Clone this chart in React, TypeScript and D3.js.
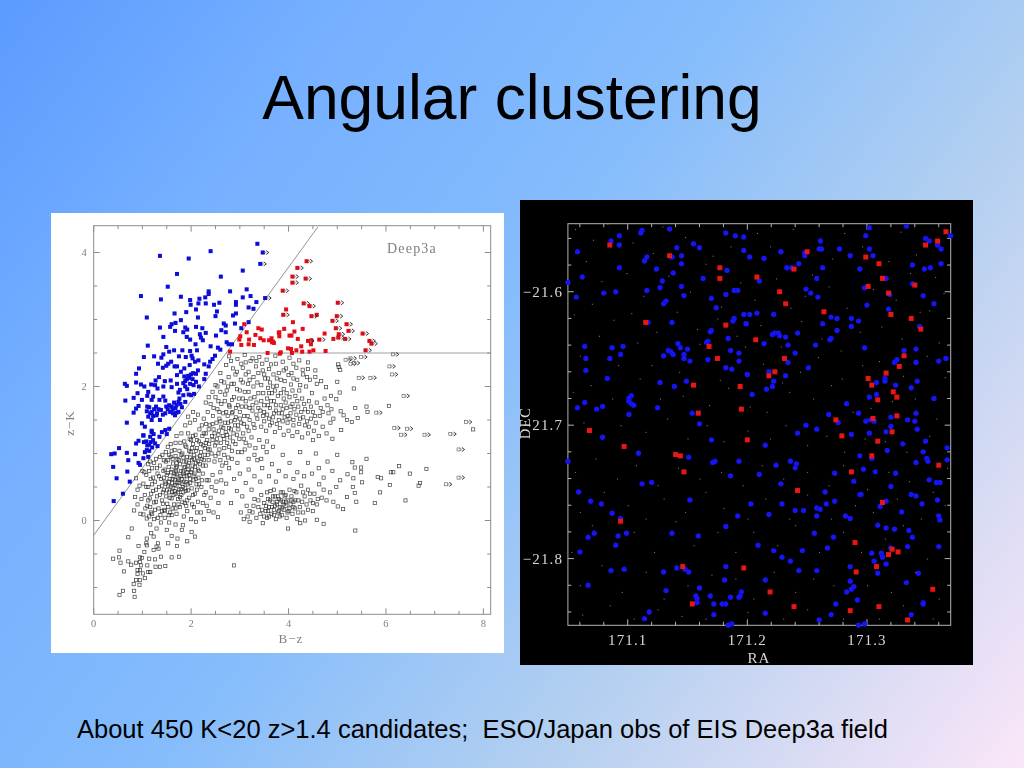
import React from "react";
import * as d3 from "d3";

// ---------- left panel: colour-colour diagram, [B-z, z-K] ----------
const xTicksLeft = [0, 2, 4, 6, 8];
const yTicksLeft = [0, 2, 4];
const blueSelected = [[3.36,4.13],[2.4,4.02],[1.36,3.95],[1.95,3.91],[3.06,3.73],[1.71,3.68],[2.61,3.64],[1.52,3.49],[2.8,3.42],[3.14,3.45],[2.36,3.42],[2.36,3.38],[.97,3.35],[1.38,3.3],[1.79,3.34],[2.17,3.31],[2.29,3.33],[1.98,3.29],[3.06,3.33],[3.22,3.35],[2.92,3.26],[3.34,3.26],[1.99,3.22],[2.15,3.24],[2.3,3.24],[2.47,3.22],[2.58,3.25],[2.92,3.22],[2.1,3.15],[3.18,3.18],[3.28,3.16],[2.53,3.12],[1.9,3.11],[1.66,3.09],[2.5,3.05],[2.92,3.09],[2.86,3.06],[1.09,3.03],[2.14,3.03],[1.79,2.99],[1.68,2.95],[3.18,2.96],[2.67,2.94],[2.71,2.91],[2.9,2.94],[1.6,2.93],[1.57,2.89],[1.36,2.88],[1.88,2.88],[2.1,2.89],[2.23,2.87],[1.67,2.83],[1.92,2.85],[1.84,2.81],[2.62,2.84],[3.03,2.87],[2.71,2.81],[2.3,2.8],[2.18,2.78],[2.51,2.76],[1.43,2.74],[1.91,2.74],[1.98,2.7],[2.2,2.73],[2.24,2.69],[2.73,2.66],[2.77,2.63],[2.84,2.63],[1.11,2.61],[1.49,2.59],[2.09,2.63],[2.4,2.6],[2.55,2.58],[1.65,2.54],[1.82,2.54],[2.6,2.55],[1.98,2.53],[1.55,2.52],[2.12,2.54],[1.43,2.48],[1.75,2.45],[1.24,2.45],[1.03,2.44],[1.39,2.43],[1.89,2.44],[2.01,2.46],[2.49,2.46],[2.03,2.42],[2.15,2.39],[2.44,2.41],[2.39,2.37],[2.08,2.37],[1.59,2.37],[1.53,2.34],[1.32,2.34],[1.49,2.31],[1.66,2.3],[1.71,2.3],[1.97,2.32],[2.27,2.33],[2.36,2.3],[.93,2.27],[1.86,2.27],[1.42,2.28],[1.79,2.22],[2.14,2.24],[2.3,2.19],[.87,2.19],[2.1,2.19],[1.71,2.17],[1.34,2.14],[1.96,2.13],[1.91,2.11],[2.03,2.11],[1.58,2.09],[1.46,2.08],[1.27,2.09],[.87,2.06],[2.27,2.11],[.64,2.04],[.68,2.01],[.97,2.03],[1.26,2.02],[1.71,2.04],[1.84,2.05],[1.98,2.04],[2.1,2.07],[1.04,2],[1.18,2.03],[1.6,1.99],[2.16,2],[1.31,1.97],[1.43,2],[1.77,1.95],[.9,1.9],[1.12,1.92],[1.74,1.91],[2.06,1.89],[2,1.87],[1.84,1.87],[1.95,1.88],[.82,1.83],[.65,1.79],[.99,1.8],[1.19,1.8],[1.43,1.85],[1.76,1.82],[1.47,1.79],[.87,1.67],[.92,1.71],[1.14,1.69],[1.28,1.7],[1.65,1.76],[1.74,1.77],[1.88,1.77],[1.49,1.7],[1.6,1.7],[1.81,1.69],[.82,1.61],[1.09,1.63],[1.19,1.62],[1.33,1.66],[1.57,1.62],[1.74,1.62],[1.12,1.55],[1.29,1.57],[1.47,1.6],[1.67,1.57],[.68,1.46],[1.19,1.5],[1.36,1.5],[.99,1.45],[1.05,1.4],[1.55,1.37],[1.47,1.35],[1.19,1.34],[1.4,1.32],[1.02,1.27],[1.23,1.29],[1.5,1.29],[.36,.99],[.43,1],[.52,1.08],[.68,1.01],[.85,.99],[.71,.9],[.4,.8],[.69,.73],[.47,.63],[.74,.58],[.6,.4],[.41,.29],[.92,.86],[.95,.83],[1.02,.93],[1.09,1.05],[1.05,1.02],[1.14,1.04],[1.12,.95],[.87,1.15],[.92,1.19],[1.02,1.27],[1.16,1.25],[1.26,1.15],[1.31,1.11],[1.35,1.25],[1.19,1.32],[1.3,1.6],[1.38,1.65],[1.42,1.58],[1.52,1.66],[1.55,1.72],[1.62,1.66],[1.68,1.68],[1.7,1.72],[1.78,1.74],[1.7,1.61],[1.63,1.6],[1.22,1.56],[1.24,1.66],[1.16,1.6],[1.1,1.7],[1.03,1.17],[1.1,1.12],[1.08,1.18],[1.17,1.17],[1.2,1.09],[1.22,1.2],[1.14,1.13],[1.86,2.15],[1.88,2.08],[1.94,2.16],[2,2.18],[2.04,2.2],[2.05,2.02],[1.92,1.96],[1.88,2],[1.35,1.8],[1.22,1.85],[1.1,1.86]];
const redSelected = [[3.95,3.15],[4.58,3.07],[4.09,2.96],[4.29,2.86],[3.91,2.86],[3.81,2.81],[4.12,2.82],[4.02,2.76],[4.06,2.76],[4.74,2.79],[3.81,2.75],[4.19,2.71],[3.65,2.72],[3.66,2.66],[3.7,2.65],[4.47,2.69],[4.46,2.63],[4.26,2.6],[4.92,2.71],[3.99,2.57],[4.05,2.56],[4.16,2.54],[4.07,2.5],[4.28,2.52],[4.43,2.52],[4.51,2.54],[4.76,2.53],[3.84,2.51],[3.14,2.81],[3.01,2.75],[2.99,2.7],[3.03,2.62],[3.18,2.63],[3.19,2.7],[3.38,2.87],[3.45,2.85],[3.42,2.72],[3.32,2.77],[3.49,2.69],[3.6,2.69],[3.68,2.67],[3.8,2.8],[2.8,2.52],[3.57,2.5],[3.82,2.49],[3.29,2.62],[3.09,2.93]];
const redLimits = [[4.37,3.87],[4.18,3.77],[4.08,3.64],[4.08,3.55],[4.35,3.61],[3.88,3.43],[4.31,3.24],[4.43,3.2],[5.01,3.25],[3.89,3.07],[4.47,3.05],[4.99,3.05],[4.9,2.98],[5.19,2.93],[4.97,2.87],[5.23,2.83],[5.52,2.79],[5.03,2.78],[5.02,2.73],[5.16,2.71],[4.63,2.7],[4.4,2.68],[5.66,2.68],[5.7,2.64],[5.58,2.54]];
const blueLimits = [[3.47,4],[3.42,3.83],[3.52,3.32]];
const greyLimits = [[5.17,2.4],[5.27,2.42],[5.27,2.34],[5.34,2.35],[5.49,2.44],[6.14,2.48],[6.07,2.3],[6.12,2.18],[5.44,2.13],[5.68,2.13],[6.36,1.86],[5.8,1.61],[7.64,1.47],[6.17,1.38],[6.43,1.37],[6.31,1.28],[6.79,1.28],[7.32,1.29],[7.49,1.06],[7.49,.64],[7.23,.54]];
const greySparse = [[5.02,2.33],[5.03,2.29],[5.06,2.25],[5.34,1.97],[5,2.07],[5.05,1.91],[4.98,1.81],[4.87,1.86],[5.37,1.68],[5.6,1.7],[6.06,1.71],[5.62,1.62],[5.42,1.53],[5.3,1.47],[5.2,1.5],[7.79,1.36],[5.13,1.57],[5.07,1.63],[5.08,1.35],[4.4,2.36],[4.16,2.28],[4.29,2.25],[4.4,2.26],[4.55,2.24],[4.38,2.14],[4.55,2.14],[4.67,2.08],[4.58,2.04],[4.77,1.99],[5.6,.92],[5.31,.87],[5.36,.79],[5.49,.79],[5.49,.72],[5.21,.69],[5.83,.65],[5.9,.63],[6.1,.72],[6.15,.72],[6.27,.81],[6.49,.7],[6.83,.77],[6.7,.56],[6.67,.52],[6.08,.53],[5.88,.42],[6.4,.3],[5.77,.26],[5.39,.28],[5.37,-.15],[5.51,.57],[5.33,.63],[5.32,.5],[5.36,.41],[5.2,.35],[5.12,.17],[5.01,.21],[4.72,-.05],[4.58,.01],[4.34,0],[4.24,-.04],[3.99,-.12],[.78,-.12],[.71,-.25],[.92,-.38],[.53,-.45],[.4,-.57],[.52,-.55],[.55,-.63],[.71,-.61],[.77,-.66],[.62,-.76],[.87,-.63],[.95,-.55],[.97,-.67],[1.04,-.47],[1.08,-.34],[1.09,-.27],[1.16,-.06],[1.23,-.24],[1.29,-.39],[1.33,-.42],[1.14,-.57],[1.26,-.58],[1.38,-.54],[1.36,-.69],[1.47,-.68],[1.27,-.69],[1.12,-.77],[.95,-.74],[.9,-.8],[1.05,-.86],[.87,-.89],[.95,-.89],[.82,-.95],[.94,-.96],[.6,-1.05],[.53,-1.11],[.83,-1.05],[.84,-1.14],[2.88,-.67],[1.6,-.55],[1.75,-.54],[1.53,-.34],[1.71,-.38],[1.92,-.31],[1.72,-.27],[1.6,-.23],[2.08,-.24],[2.1,-.02],[2.01,-.17],[1.81,-.14],[1.5,-.14],[1.29,-.12],[1.18,-.19],[1.09,-.37],[.99,-.56],[1.1,-.67],[1.23,-.44],[1.32,-.34],[.95,-.62],[.9,-.74],[1.16,-.77],[1.01,-.79],[.83,.15],[.85,.35],[.87,.63],[.9,.46],[1.02,.09],[1.09,.03],[1.16,.2],[.9,.24]];
const greyCore = [[1.02,.55],[1.05,.38],[1.08,.68],[1.1,.22],[1.12,.5],[1.15,.33],[1.17,.62],[1.18,.12],[1.2,.78],[1.22,.44],[1.24,.27],[1.26,.58],[1.28,.92],[1.3,.36],[1.31,.7],[1.33,.18],[1.34,.5],[1.36,.82],[1.37,.08],[1.38,.62],[1.4,.3],[1.41,.98],[1.43,.74],[1.44,.46],[1.45,.16],[1.46,.58],[1.48,.88],[1.49,.36],[1.5,.68],[1.51,.25],[1.52,1.1],[1.53,.52],[1.54,.8],[1.55,.42],[1.56,.62],[1.57,.12],[1.58,.95],[1.59,.72],[1.6,.33],[1.61,.56],[1.62,.48],[1.63,.85],[1.64,.66],[1.65,.24],[1.66,1.05],[1.67,.6],[1.68,.4],[1.69,.78],[1.7,.52],[1.71,.7],[1.72,.92],[1.73,.32],[1.74,.64],[1.75,.46],[1.76,.56],[1.77,.84],[1.78,1.16],[1.79,.74],[1.8,.38],[1.81,.62],[1.82,1],[1.83,.5],[1.84,.7],[1.85,.88],[1.86,.58],[1.87,.26],[1.88,.8],[1.89,.44],[1.9,1.1],[1.91,.66],[1.92,.95],[1.93,.54],[1.94,.76],[1.95,.86],[1.96,.34],[1.97,1.22],[1.98,.62],[1.99,1.02],[2,.72],[2.01,.48],[2.02,.9],[2.03,.82],[2.04,1.14],[2.05,.6],[2.06,.98],[2.07,.7],[2.08,.4],[2.09,1.28],[2.1,.86],[2.11,.54],[2.12,1.08],[2.13,.94],[2.14,.76],[2.15,.64],[2.16,1.18],[2.17,1.36],[2.18,.84],[2.2,1.02],[2.21,.5],[2.22,.92],[2.23,1.26],[2.24,.7],[2.25,1.12],[2.27,.38],[2.28,.98],[2.3,.82],[2.31,1.44],[2.32,.6],[2.33,1.2],[2.35,1.06],[2.36,.9],[1.62,.18],[1.7,.1],[1.77,.2],[1.85,.06],[1.92,.14],[2,.02],[2.06,.2],[2.14,.28],[2.2,.12],[2.26,.02],[2.32,.22],[2.4,.34],[2.46,.12],[2.55,.05],[1.46,.04],[1.55,-.03],[1.38,-.03],[1.24,.02],[1.68,-.06],[1.83,-.07]];
const greyCoreDense = [[1.74,.61],[1.58,.5],[1.83,.73],[1.66,.44],[1.52,.71],[1.9,.57],[1.71,.8],[1.62,.62],[1.79,.47],[1.96,.68],[1.48,.55],[1.86,.66],[1.67,.53],[1.55,.58],[1.78,.66],[1.69,.73],[1.93,.82],[1.6,.76],[1.44,.64],[1.82,.55],[2.02,.76],[1.73,.42],[1.64,.38],[1.88,.48],[1.56,.34],[1.98,.56],[1.75,.9],[1.8,.98],[1.92,.72],[1.85,.79],[2.05,.67],[1.5,.45],[1.4,.52],[1.66,.7],[1.72,.57],[1.61,.43],[1.77,.35],[1.84,.42],[1.94,.45],[1.46,.76],[1.52,.9],[1.34,.66],[1.28,.46],[1.36,.38],[1.42,.25],[1.53,.2],[1.68,.18],[1.82,.28],[1.92,.3],[2.04,.38],[2.12,.46],[2.1,.62],[2.16,.74],[2.08,.8],[2.14,.88],[2.24,.82],[2.06,.92],[1.98,.94],[2.18,.96],[2.1,1.04],[2.02,1.08],[2.26,.9],[2.34,.98],[2.28,1.08],[2.2,1.14],[2.12,1.2],[2.04,1.26],[2.3,1.16],[2.38,1.06],[2.44,1.2],[2.26,1.3],[2.36,1.36],[2.22,1.42],[2,1.2],[1.88,1.12],[1.76,1.04],[1.68,.96],[1.6,1.04],[1.55,.98],[1.44,.9],[1.36,.95],[1.22,.64],[1.18,.4],[1.28,.28],[1.12,.3],[1.06,.18],[1.2,.1],[1.32,.04],[1.24,.86],[1.14,.74],[1.16,.88],[1.08,.5],[1.2,.54],[1.3,.78],[1.42,.42],[1.62,.92],[1.7,.86],[1.84,.94],[1.9,.88],[1.96,1.04],[1.86,1.18],[1.94,1.3],[1.74,.24],[1.6,.08],[1.46,.14],[1.54,.08],[1.9,.22],[2.02,.24],[2.12,.12],[2.24,.26],[2.36,.14],[2.3,.42],[2.42,.5],[2.36,.6],[2.44,.68],[2.5,.44],[2.56,.26],[2.62,.6],[2.22,.6],[2.16,.54],[1.12,.84],[1.04,.72],[1.26,.16],[1.4,.14],[1.14,.06],[.96,.1],[.98,.32],[.94,.52],[1,.74],[1.48,1.02],[1.58,1.14],[1.68,1.16],[1.7,1.26],[1.8,1.3],[1.88,1.42],[1.98,1.46],[2.08,1.5],[2.14,1.58],[2.04,1.62],[1.94,1.55]];
const greyRidge = [[2.26,1.52],[2.3,1.3],[2.34,1.62],[2.37,1.14],[2.38,1.42],[2.4,1.74],[2.42,1],[2.43,1.26],[2.45,1.56],[2.46,1.36],[2.48,.88],[2.49,1.12],[2.5,1.84],[2.52,1.46],[2.53,1.22],[2.54,1.66],[2.56,1],[2.57,1.34],[2.58,1.52],[2.6,1.92],[2.61,1.16],[2.62,1.4],[2.64,.82],[2.65,1.26],[2.66,1.6],[2.68,1.08],[2.69,1.78],[2.7,1.46],[2.71,1.32],[2.73,1.94],[2.74,1.16],[2.75,1.56],[2.76,.94],[2.78,1.38],[2.79,1.7],[2.8,1.24],[2.82,1.48],[2.83,2.04],[2.84,1.04],[2.85,1.62],[2.87,1.3],[2.88,1.84],[2.9,1.42],[2.91,1.14],[2.92,1.54],[2.94,1.96],[2.95,.86],[2.96,1.72],[2.97,1.36],[2.99,1.22],[3,1.62],[3.02,2.1],[3.03,1.46],[3.04,1.02],[3.06,1.82],[3.07,1.3],[3.09,1.56],[3.1,1.92],[3.12,1.16],[3.13,1.7],[3.15,1.4],[3.17,2.04],[3.18,.92],[3.2,1.5],[3.22,1.82],[3.24,1.24],[3.26,1.64],[3.28,2],[3.3,1.38],[3.32,1.08],[3.34,1.76],[3.36,1.52],[3.38,1.9]];
const greyRidgeDense = [[2.56,1.28],[2.66,1.38],[2.48,1.3],[2.74,1.28],[2.6,1.48],[2.52,1.16],[2.82,1.36],[2.44,1.44],[2.68,1.22],[2.76,1.46],[2.58,1.62],[2.9,1.5],[2.84,1.6],[2.96,1.42],[3,1.52],[2.72,1.62],[3.08,1.44],[2.62,1.74],[2.78,1.72],[2.92,1.68],[3.04,1.7],[3.16,1.56],[3.2,1.68],[3.12,1.78],[2.98,1.82],[2.84,1.8],[2.7,1.88],[2.56,1.78],[2.46,1.68],[2.36,1.84],[2.44,1.92],[2.3,1.76],[2.54,2],[2.62,2.08],[2.76,2],[2.88,2.04],[3,1.94],[3.06,2.06],[3.18,1.92],[3.3,1.84],[3.26,1.72],[3.38,1.68],[3.44,1.78],[3.5,1.62],[3.34,1.58],[3.28,1.44],[3.18,1.34],[3.08,1.22],[2.94,1.28],[2.86,1.18],[2.78,1.1],[2.68,.98],[2.58,1.06],[2.5,.96],[2.6,.9],[2.72,.86],[2.84,.92],[2.96,1.02],[3.1,1.06],[3.2,1.12],[3.4,1.2],[3.48,1.1],[3.56,1.18],[3.68,1.1],[3.3,.98],[3.44,.92]];
const greyUpper = [[2.78,2.45],[2.95,2.41],[3.1,2.47],[3.22,2.38],[3.4,2.44],[3.55,2.4],[3.73,2.46],[3.88,2.37],[4.02,2.43],[4.22,2.39],[2.72,2.32],[2.86,2.27],[3.03,2.34],[3.18,2.22],[3.33,2.3],[3.47,2.24],[3.64,2.33],[3.8,2.2],[3.95,2.27],[4.1,2.34],[2.6,2.2],[2.77,2.14],[2.91,2.18],[3.06,2.28],[3.28,2.14],[3.38,2.2],[3.52,2.12],[3.69,2.18],[3.84,2.1],[4,2.17],[4.18,2.1],[4.3,2.18],[2.5,2.02],[2.68,2.06],[3.12,2.18],[3.44,2.02],[3.58,1.98],[3.62,2.06],[3.76,2.01],[3.9,1.96],[4.05,2.03],[4.22,1.94],[4.36,2],[4.48,1.9],[3.48,1.9],[3.56,1.82],[3.66,1.9],[3.7,1.78],[3.78,1.86],[3.84,1.72],[3.9,1.82],[3.96,1.68],[4.02,1.84],[4.08,1.74],[4.14,1.86],[4.2,1.7],[4.28,1.82],[4.34,1.66],[4.42,1.78],[4.5,1.62],[4.58,1.76],[4.66,1.68],[4.74,1.82],[4.82,1.6],[3.42,1.64],[3.5,1.72],[3.56,1.58],[3.62,1.68],[3.68,1.54],[3.74,1.64],[3.8,1.5],[3.86,1.6],[3.92,1.54],[3.98,1.46],[4.04,1.6],[4.1,1.5],[4.16,1.58],[4.22,1.44],[4.3,1.54],[4.38,1.48],[4.46,1.52],[4.56,1.46],[4.64,1.56],[4.7,1.4],[4.86,1.46],[4.92,1.52],[3.44,1.4],[3.54,1.34],[3.62,1.42],[3.72,1.32],[3.82,1.38],[3.9,1.28],[4,1.34],[4.08,1.26],[4.18,1.32],[4.28,1.24],[4.4,1.3],[4.5,1.2],[4.62,1.26],[4.78,1.3],[4.9,1.22]];
const greyUpperDense = [[3.12,2.36],[3.26,2.42],[3.46,2.34],[3.6,2.26],[3.74,2.34],[3.9,2.24],[4.06,2.2],[2.82,2.38],[2.94,2.22],[3.2,2.1],[3.34,2.38],[3.36,2.06],[3.5,2.18],[3.76,2.12],[3.92,2.08],[4.1,2.12],[4.24,2.02],[4.44,2.1],[3.58,2.12],[3.68,2],[3.84,1.9],[3.96,1.9],[4.08,1.94],[3.72,1.94],[3.6,1.9],[3.74,1.72],[3.88,1.66],[3.94,1.76],[4.04,1.7],[3.8,1.6],[3.7,1.6],[3.64,1.78],[3.58,1.72],[4.12,1.66],[4.18,1.78],[4.26,1.62],[4.32,1.74],[4.4,1.62],[4.46,1.7],[4.54,1.56],[4.1,1.42],[3.98,1.56],[3.88,1.48],[4.02,1.52],[4.24,1.52],[4.34,1.42],[4.42,1.4],[4.52,1.34],[3.76,1.44],[3.66,1.46],[3.5,1.48],[3.6,1.52],[3.48,1.56],[4.7,1.62],[4.8,1.72],[4.88,1.66]];
const greyLobe = [[3.08,.02],[3.14,.22],[3.2,-.02],[3.26,.12],[3.3,.32],[3.34,.04],[3.38,.2],[3.42,.1],[3.44,.38],[3.47,-.04],[3.5,.26],[3.53,.14],[3.56,.04],[3.58,.32],[3.6,.2],[3.63,.44],[3.65,.1],[3.67,.28],[3.7,.16],[3.72,.36],[3.74,.02],[3.76,.24],[3.78,.12],[3.8,.32],[3.82,.2],[3.84,.42],[3.86,.08],[3.88,.28],[3.9,.16],[3.92,.36],[3.94,.22],[3.96,.04],[3.98,.3],[4,.14],[4.02,.46],[4.04,.24],[4.06,.36],[4.08,.1],[4.1,.28],[4.13,.18],[4.16,.42],[4.18,.02],[4.2,.3],[4.23,.2],[4.26,.52],[4.3,.12],[4.33,.36],[4.37,.24],[4.4,.46],[4.45,.3],[4.5,.14],[4.53,.4],[4.58,.24],[4.63,.54],[4.68,.34],[4.72,.46],[4.78,.3],[4.85,.42],[4.92,.28],[4.98,.5]];
const greyLobeDense = [[3.72,.22],[3.84,.3],[3.66,.2],[3.95,.28],[3.78,.36],[3.58,.14],[3.9,.24],[3.8,.14],[4.02,.18],[3.7,.08],[3.62,.3],[3.86,.18],[3.98,.12],[4.1,.2],[4.06,.3],[3.54,.22],[3.46,.16],[3.76,.28],[3.94,.38],[3.68,.36],[3.5,.06],[3.6,.06],[3.82,.06],[4.14,.3],[4.2,.12],[4.28,.28],[3.38,.3],[3.28,.22],[3.2,.14],[3.88,.42],[4.12,.44],[4.3,.42],[4.44,.4],[4.5,.26],[4.6,.32],[4.4,.16],[3.7,.46],[3.56,.42],[3.16,.06],[3.02,.12]];
const greyBetween = [[2.52,.58],[2.6,.72],[2.64,.42],[2.72,.55],[2.78,.78],[2.82,.26],[2.88,.62],[2.94,.44],[3,.7],[3.05,.36],[3.12,.56],[3.18,.76],[3.24,.46],[3.3,.66],[3.36,.9],[3.42,.58],[3.46,.78],[3.55,1.02],[3.6,.66],[3.66,.84],[3.74,.58],[3.8,.74],[3.88,.98],[3.94,.66],[4.02,.86],[4.1,.62],[4.18,.72],[4.24,1.02],[4.32,.66],[4.4,.86],[4.48,.7],[4.56,1],[4.62,.78],[4.72,.64],[4.8,.88],[4.9,.74],[5,.98],[5.06,.6]];

// ---------- right panel: sky positions, offsets from RA 171 and DEC -21 ----------
const raBase = 171;
const decBase = -21;
const raTicks = [171.1, 171.2, 171.3];
const decTicks = [-21.6, -21.7, -21.8];
const blueSky = [[.093,.558],[.112,.554],[.111,.556],[.135,.553],[.182,.556],[.19,.558],[.197,.559],[.086,.562],[.093,.565],[.058,.57],[.141,.567],[.155,.564],[.16,.567],[.197,.569],[.116,.574],[.114,.577],[.137,.574],[.145,.573],[.145,.579],[.093,.582],[.124,.583],[.183,.584],[.138,.586],[.062,.589],[.05,.593],[.129,.592],[.163,.59],[.127,.597],[.145,.596],[.116,.599],[.08,.601],[.09,.6],[.057,.604],[.147,.603],[.189,.599],[.192,.599],[.182,.602],[.17,.605],[.132,.607],[.13,.609],[.174,.612],[.197,.617],[.189,.62],[.188,.622],[.117,.623],[.137,.623],[.199,.624],[.17,.629],[.169,.63],[.167,.637],[.166,.638],[.184,.635],[.142,.639],[.064,.641],[.087,.642],[.096,.641],[.144,.642],[.15,.643],[.134,.644],[.136,.645],[.138,.647],[.13,.648],[.094,.647],[.186,.644],[.193,.646],[.147,.647],[.147,.65],[.065,.65],[.085,.65],[.167,.651],[.152,.652],[.193,.652],[.065,.659],[.182,.657],[.187,.658],[.2,.662],[.083,.665],[.149,.667],[.127,.668],[.139,.671],[.103,.678],[.101,.68],[.101,.682],[.064,.683],[.103,.684],[.105,.685],[.058,.687],[.074,.688],[.079,.686],[.125,.687],[.101,.692],[.154,.691],[.16,.699],
[.302,.552],[.333,.551],[.299,.558],[.349,.56],[.352,.562],[.37,.558],[.261,.562],[.359,.565],[.362,.568],[.262,.568],[.26,.568],[.277,.568],[.302,.568],[.228,.57],[.248,.571],[.248,.573],[.202,.574],[.214,.575],[.286,.573],[.305,.573],[.243,.579],[.362,.579],[.338,.58],[.353,.582],[.348,.583],[.233,.582],[.237,.582],[.263,.582],[.294,.583],[.258,.59],[.316,.59],[.21,.592],[.338,.594],[.298,.597],[.249,.598],[.253,.601],[.259,.604],[.319,.602],[.347,.603],[.356,.609],[.3,.61],[.318,.613],[.202,.617],[.208,.616],[.222,.617],[.27,.619],[.275,.62],[.287,.62],[.293,.622],[.199,.624],[.263,.624],[.287,.626],[.344,.626],[.275,.629],[.242,.631],[.221,.632],[.223,.631],[.226,.631],[.227,.633],[.232,.634],[.27,.635],[.269,.636],[.234,.64],[.214,.639],[.257,.64],[.298,.642],[.341,.643],[.331,.644],[.24,.646],[.325,.651],[.323,.653],[.341,.653],[.36,.652],[.366,.65],[.234,.653],[.251,.657],[.2,.662],[.232,.663],[.218,.66],[.222,.667],[.308,.668],[.315,.665],[.315,.667],[.342,.667],[.324,.67],[.221,.671],[.216,.673],[.337,.672],[.308,.677],[.302,.679],[.204,.677],[.356,.68],[.283,.684],[.268,.692],[.293,.691],[.341,.691],[.32,.694],[.334,.696],[.34,.697],[.299,.697],[.303,.696],[.306,.697],[.276,.698],[.249,.7],[.32,.701],[.342,.703],[.258,.703],[.316,.705],[.242,.706],[.302,.706],
[.079,.709],[.17,.711],[.109,.721],[.151,.724],[.173,.727],[.171,.728],[.05,.727],[.193,.727],[.186,.738],[.112,.744],[.12,.743],[.059,.75],[.069,.757],[.078,.759],[.152,.756],[.087,.766],[.094,.77],[.192,.768],[.182,.776],[.072,.781],[.067,.784],[.092,.783],[.099,.781],[.137,.781],[.159,.783],[.09,.79],[.06,.795],[.086,.809],[.097,.808],[.13,.81],[.141,.807],[.148,.808],[.151,.81],[.182,.806],[.181,.816],[.067,.82],[.16,.822],[.132,.824],[.195,.825],[.194,.828],[.193,.829],[.157,.828],[.158,.83],[.158,.833],[.169,.828],[.186,.829],[.172,.834],[.179,.834],[.182,.834],[.118,.84],[.172,.842],[.114,.845],[.187,.849],[.184,.85],
[.287,.707],[.215,.715],[.33,.714],[.349,.712],[.367,.717],[.347,.72],[.317,.719],[.294,.723],[.304,.725],[.35,.725],[.351,.727],[.367,.726],[.341,.728],[.224,.73],[.236,.727],[.241,.729],[.24,.732],[.21,.737],[.273,.736],[.297,.733],[.307,.735],[.324,.736],[.228,.744],[.289,.742],[.32,.746],[.352,.741],[.358,.743],[.361,.743],[.265,.75],[.294,.752],[.295,.752],[.337,.752],[.341,.753],[.359,.756],[.203,.759],[.229,.759],[.273,.757],[.266,.759],[.316,.757],[.311,.761],[.346,.759],[.258,.762],[.261,.763],[.24,.764],[.247,.764],[.329,.765],[.218,.767],[.258,.768],[.36,.768],[.361,.771],[.282,.768],[.286,.77],[.309,.775],[.316,.777],[.323,.778],[.335,.779],[.256,.781],[.272,.784],[.338,.784],[.209,.79],[.222,.794],[.246,.794],[.267,.792],[.32,.792],[.334,.791],[.36,.791],[.229,.799],[.304,.796],[.312,.796],[.313,.799],[.236,.802],[.306,.802],[.316,.804],[.286,.806],[.243,.809],[.258,.809],[.309,.811],[.343,.811],[.215,.816],[.286,.817],[.333,.818],[.289,.821],[.287,.823],[.283,.825],[.292,.831],[.347,.833],[.347,.834],[.274,.834],[.215,.841],[.27,.842],[.337,.842],[.26,.846],[.293,.85],[.298,.849]];
const redSky = [[.085,.565],[.135,.573],[.177,.582],[.177,.59],[.115,.623],[.182,.625],[.168,.641],[.175,.65],[.155,.67],[.194,.671],[.195,.688],[.159,.691],[.068,.704],
[.366,.555],[.359,.562],[.349,.565],[.25,.57],[.299,.574],[.31,.579],[.239,.583],[.208,.589],[.313,.59],[.34,.595],[.301,.596],[.227,.6],[.318,.601],[.232,.609],[.264,.615],[.32,.617],[.337,.62],[.345,.628],[.207,.636],[.331,.648],[.231,.65],[.327,.656],[.223,.66],[.218,.663],[.316,.661],[.301,.665],[.304,.67],[.322,.675],[.325,.679],[.309,.681],[.325,.693],[.274,.696],[.305,.695],[.321,.705],
[.097,.716],[.14,.722],[.144,.723],[.147,.735],[.094,.772],[.146,.806],[.197,.807],[.154,.834],[.2,.711],
[.279,.708],[.309,.712],[.304,.723],[.36,.73],[.287,.735],[.242,.749],[.313,.758],[.29,.788],[.321,.793],[.318,.797],[.326,.795],[.308,.806],[.291,.81],[.355,.823],[.219,.825],[.239,.836],[.286,.839],[.31,.836],[.334,.846]];
const faintSky = [[.056,.553],[.071,.561],[.083,.549],[.104,.563],[.121,.571],[.129,.551],[.148,.559],[.171,.573],[.186,.566],[.208,.556],[.219,.566],[.238,.553],[.254,.587],[.271,.575],[.281,.556],[.296,.566],[.318,.577],[.328,.555],[.341,.572],[.357,.589],[.065,.577],[.078,.592],[.099,.586],[.113,.603],[.134,.588],[.152,.6],[.165,.579],[.178,.611],[.194,.593],[.206,.606],[.224,.59],[.236,.612],[.248,.603],[.268,.596],[.283,.612],[.305,.598],[.324,.606],[.336,.586],[.352,.614],[.364,.601],[.055,.617],[.07,.609],[.088,.621],[.103,.616],[.124,.63],[.141,.615],[.158,.628],[.175,.62],[.191,.633],[.211,.625],[.228,.641],[.245,.622],[.262,.635],[.278,.644],[.294,.63],[.312,.626],[.329,.635],[.344,.615],[.36,.638],[.06,.648],[.076,.633],[.092,.655],[.108,.638],[.12,.655],[.143,.66],[.16,.639],[.177,.666],[.198,.641],[.213,.654],[.229,.668],[.244,.66],[.259,.649],[.279,.665],[.296,.655],[.31,.652],[.33,.663],[.35,.648],[.365,.664],[.054,.675],[.069,.67],[.087,.68],[.11,.665],[.127,.68],[.146,.678],[.168,.685],[.184,.672],[.202,.686],[.216,.69],[.235,.675],[.255,.68],[.27,.67],[.288,.69],[.303,.687],[.321,.682],[.34,.68],[.358,.695],[.063,.698],[.078,.71],[.094,.7],[.115,.705],[.133,.695],[.15,.71],[.166,.7],[.18,.712],[.2,.704],[.219,.71],[.232,.7],[.25,.715],[.266,.708],[.281,.72],[.298,.71],[.315,.712],[.333,.72],[.352,.708],[.367,.732],[.056,.735],[.073,.725],[.091,.74],[.107,.73],[.125,.745],[.142,.732],[.16,.74],[.178,.735],[.196,.745],[.212,.73],[.23,.74],[.25,.735],[.268,.745],[.28,.73],[.3,.748],[.318,.735],[.335,.742],[.355,.75],[.06,.765],[.08,.75],[.1,.76],[.115,.77],[.13,.755],[.148,.765],[.165,.75],[.18,.762],[.2,.77],[.215,.755],[.235,.77],[.25,.752],[.27,.77],[.29,.76],[.305,.765],[.325,.755],[.345,.77],[.365,.76],[.053,.795],[.07,.775],[.088,.79],[.105,.78],[.122,.795],[.14,.772],[.155,.79],[.175,.78],[.19,.795],[.205,.78],[.225,.79],[.24,.775],[.26,.795],[.28,.78],[.295,.795],[.315,.785],[.33,.775],[.35,.8],[.06,.82],[.078,.805],[.095,.825],[.115,.81],[.13,.83],[.15,.82],[.17,.812],[.19,.815],[.205,.83],[.222,.81],[.24,.825],[.255,.815],[.272,.82],[.3,.82],[.32,.825],[.34,.81],[.36,.83],[.062,.842],[.085,.835],[.105,.845],[.125,.838],[.145,.843],[.165,.845],[.2,.84],[.23,.845],[.25,.838],[.28,.845],[.31,.845],[.33,.835],[.355,.845]];

const caption = "About 450 K<20 z>1.4 candidates;  ESO/Japan obs of EIS Deep3a field";
const title = "Angular clustering";

const xL = d3.scaleLinear().domain([0, 8.15]).range([93.7, 490.7]);
const yL = d3.scaleLinear().domain([-1.4, 4.4]).range([614.3, 225.7]);
const xR = d3.scaleLinear().domain([171.05, 171.37]).range([567.9, 950.7]);
const yR = d3.scaleLinear().domain([-21.85, -21.549]).range([625.3, 223.7]);

const SERIF = "'Liberation Serif', serif";
const SANS = "'Liberation Sans', Arial, sans-serif";
const greyAll = [...greyCore, ...greyCoreDense, ...greyRidge, ...greyRidgeDense, ...greyUpper, ...greyUpperDense, ...greyLobe, ...greyLobeDense, ...greyBetween, ...greySparse];
const inkLeft = "#8c8c8c";
const inkRight = "#b4b4b4";

function Sq({ p, fill, s = 4 }: { p: number[]; fill: string; s?: number }) {
  return <rect x={xL(p[0]) - s / 2} y={yL(p[1]) - s / 2} width={s} height={s} fill={fill} />;
}
function Chevron({ p }: { p: number[] }) {
  const x = xL(p[0]), y = yL(p[1]);
  return (
    <g fill="none">
      <path d={`M${x + 1} ${y - 1.6}L${x + 3.4} ${y}L${x + 1} ${y + 1.6}`} stroke="#888" strokeWidth={0.7} />
      <path d={`M${x + 3.4} ${y - 2}L${x + 6} ${y}L${x + 3.4} ${y + 2}`} stroke="#222" strokeWidth={0.9} />
    </g>
  );
}

export default function App() {
  const xMinor = d3.range(0, 8.01, 0.5);
  const yMinor = d3.range(-1, 4.01, 0.5);
  const raMinor = d3.range(171.06, 171.37, 0.02);
  const decMinor = d3.range(-21.84, -21.55, 0.02);
  return (
    <svg width={1024} height={768} style={{ position: "fixed", left: 0, top: 0 }}>
      <defs>
        <linearGradient id="bg" gradientUnits="userSpaceOnUse" x1={0} y1={0} x2={1024} y2={768}>
          <stop offset="0" stopColor="#5b9bff" />
          <stop offset="0.22" stopColor="#76b0ff" />
          <stop offset="0.45" stopColor="#84bcfc" />
          <stop offset="0.7" stopColor="#b4d0f0" />
          <stop offset="1" stopColor="#fbe6f8" />
        </linearGradient>
        <filter id="soft" x="-5%" y="-5%" width="110%" height="110%">
          <feGaussianBlur stdDeviation="0.4" />
        </filter>
      </defs>
      <rect width={1024} height={768} fill="url(#bg)" />
      <text x={512} y={119} textAnchor="middle" fontFamily={SANS} fontSize={62.4} fill="#000">{title}</text>
      <text x={77} y={738} fontFamily={SANS} fontSize={25.5} fill="#000" xmlSpace="preserve" style={{ whiteSpace: "pre" }}>{caption}</text>

      {/* left panel */}
      <rect x={51} y={213} width={453} height={440} fill="#fff" />
      <g filter="url(#soft)">
        <rect x={xL(0)} y={yL(4.4)} width={xL(8.15) - xL(0)} height={yL(-1.4) - yL(4.4)} fill="none" stroke={inkLeft} />
        {xMinor.map((v) => {
          const l = v % 2 === 0 ? 6 : 3.5;
          return <g key={v} stroke={inkLeft}><line x1={xL(v)} x2={xL(v)} y1={yL(-1.4)} y2={yL(-1.4) - l} /><line x1={xL(v)} x2={xL(v)} y1={yL(4.4)} y2={yL(4.4) + l} /></g>;
        })}
        {yMinor.map((v) => {
          const l = v % 2 === 0 ? 6 : 3.5;
          return <g key={v} stroke={inkLeft}><line y1={yL(v)} y2={yL(v)} x1={xL(0)} x2={xL(0) + l} /><line y1={yL(v)} y2={yL(v)} x1={xL(8.15)} x2={xL(8.15) - l} /></g>;
        })}
        <line x1={xL(0)} y1={yL(-0.22)} x2={xL(4.6)} y2={yL(4.38)} stroke="#777" strokeWidth={0.8} />
        <line x1={xL(2.72)} y1={yL(2.5)} x2={xL(8.15)} y2={yL(2.5)} stroke="#888" strokeWidth={0.8} />
        {greyAll.map((p, i) => (
          <rect key={i} x={xL(p[0]) - 1.6} y={yL(p[1]) - 1.6} width={3.2} height={3.2} fill="none" stroke="#222" strokeWidth={0.7} strokeOpacity={0.85} />
        ))}
        {greyLimits.map((p, i) => (
          <g key={i}><rect x={xL(p[0]) - 1.5} y={yL(p[1]) - 1.5} width={3} height={3} fill="none" stroke="#555" strokeWidth={0.6} /><Chevron p={p} /></g>
        ))}
        {blueSelected.map((p, i) => <Sq key={i} p={p} fill="#0808d8" />)}
        {blueLimits.map((p, i) => <g key={i}><Chevron p={p} /><Sq p={p} fill="#0808d8" /></g>)}
        {redSelected.map((p, i) => <Sq key={i} p={p} fill="#e40c14" />)}
        {redLimits.map((p, i) => <g key={i}><Chevron p={p} /><Sq p={p} fill="#d80c14" /></g>)}
        <g fontFamily={SERIF} fill="#808080" fontSize={10.5}>
          {xTicksLeft.map((v) => <text key={v} x={xL(v)} y={627} textAnchor="middle">{v}</text>)}
          {yTicksLeft.map((v) => <text key={v} x={84} y={yL(v) + 3.5} textAnchor="middle">{v}</text>)}
          <text x={291} y={643} textAnchor="middle" fontSize={13} letterSpacing={1}>B−z</text>
          <text transform="translate(74,423) rotate(-90)" textAnchor="middle" fontSize={13} letterSpacing={1}>z−K</text>
          <text x={387} y={253} fontSize={14} letterSpacing={1.2}>Deep3a</text>
        </g>
      </g>

      {/* right panel */}
      <rect x={520} y={200} width={453} height={465} fill="#000" />
      <g filter="url(#soft)">
        {faintSky.map((p, i) => <rect key={i} x={xR(raBase + p[0])} y={yR(decBase - p[1])} width={1} height={1} fill="#8a8a7a" />)}
        <rect x={xR(171.05)} y={yR(-21.549)} width={xR(171.37) - xR(171.05)} height={yR(-21.85) - yR(-21.549)} fill="none" stroke={inkRight} />
        {raMinor.map((v) => {
          const major = raTicks.some((t) => Math.abs(t - v) < 0.001);
          const l = major ? 6 : 3.5;
          return <g key={v} stroke={inkRight}><line x1={xR(v)} x2={xR(v)} y1={yR(-21.85)} y2={yR(-21.85) - l} /><line x1={xR(v)} x2={xR(v)} y1={yR(-21.549)} y2={yR(-21.549) + l} /></g>;
        })}
        {decMinor.map((v) => {
          const major = decTicks.some((t) => Math.abs(t - v) < 0.001);
          const l = major ? 6 : 3.5;
          return <g key={v} stroke={inkRight}><line y1={yR(v)} y2={yR(v)} x1={xR(171.05)} x2={xR(171.05) + l} /><line y1={yR(v)} y2={yR(v)} x1={xR(171.37)} x2={xR(171.37) - l} /></g>;
        })}
        {blueSky.map((p, i) => <circle key={i} cx={xR(raBase + p[0])} cy={yR(decBase - p[1])} r={2.7} fill="#1212ee" />)}
        {redSky.map((p, i) => <rect key={i} x={xR(raBase + p[0]) - 2.5} y={yR(decBase - p[1]) - 2.5} width={5} height={5} fill="#e81414" />)}
        <g fontFamily={SERIF} fill="#d8d8d8" fontSize={15} letterSpacing={1.1}>
          {raTicks.map((v) => <text key={v} x={xR(v)} y={645} textAnchor="middle">{v.toFixed(1)}</text>)}
          {decTicks.map((v) => <text key={v} x={563} y={yR(v) + 5} textAnchor="end">{"−" + Math.abs(v).toFixed(1)}</text>)}
          <text x={759} y={663} textAnchor="middle">RA</text>
          <text transform="translate(530,423) rotate(-90)" textAnchor="middle" fontSize={14.5}>DEC</text>
        </g>
      </g>
    </svg>
  );
}
